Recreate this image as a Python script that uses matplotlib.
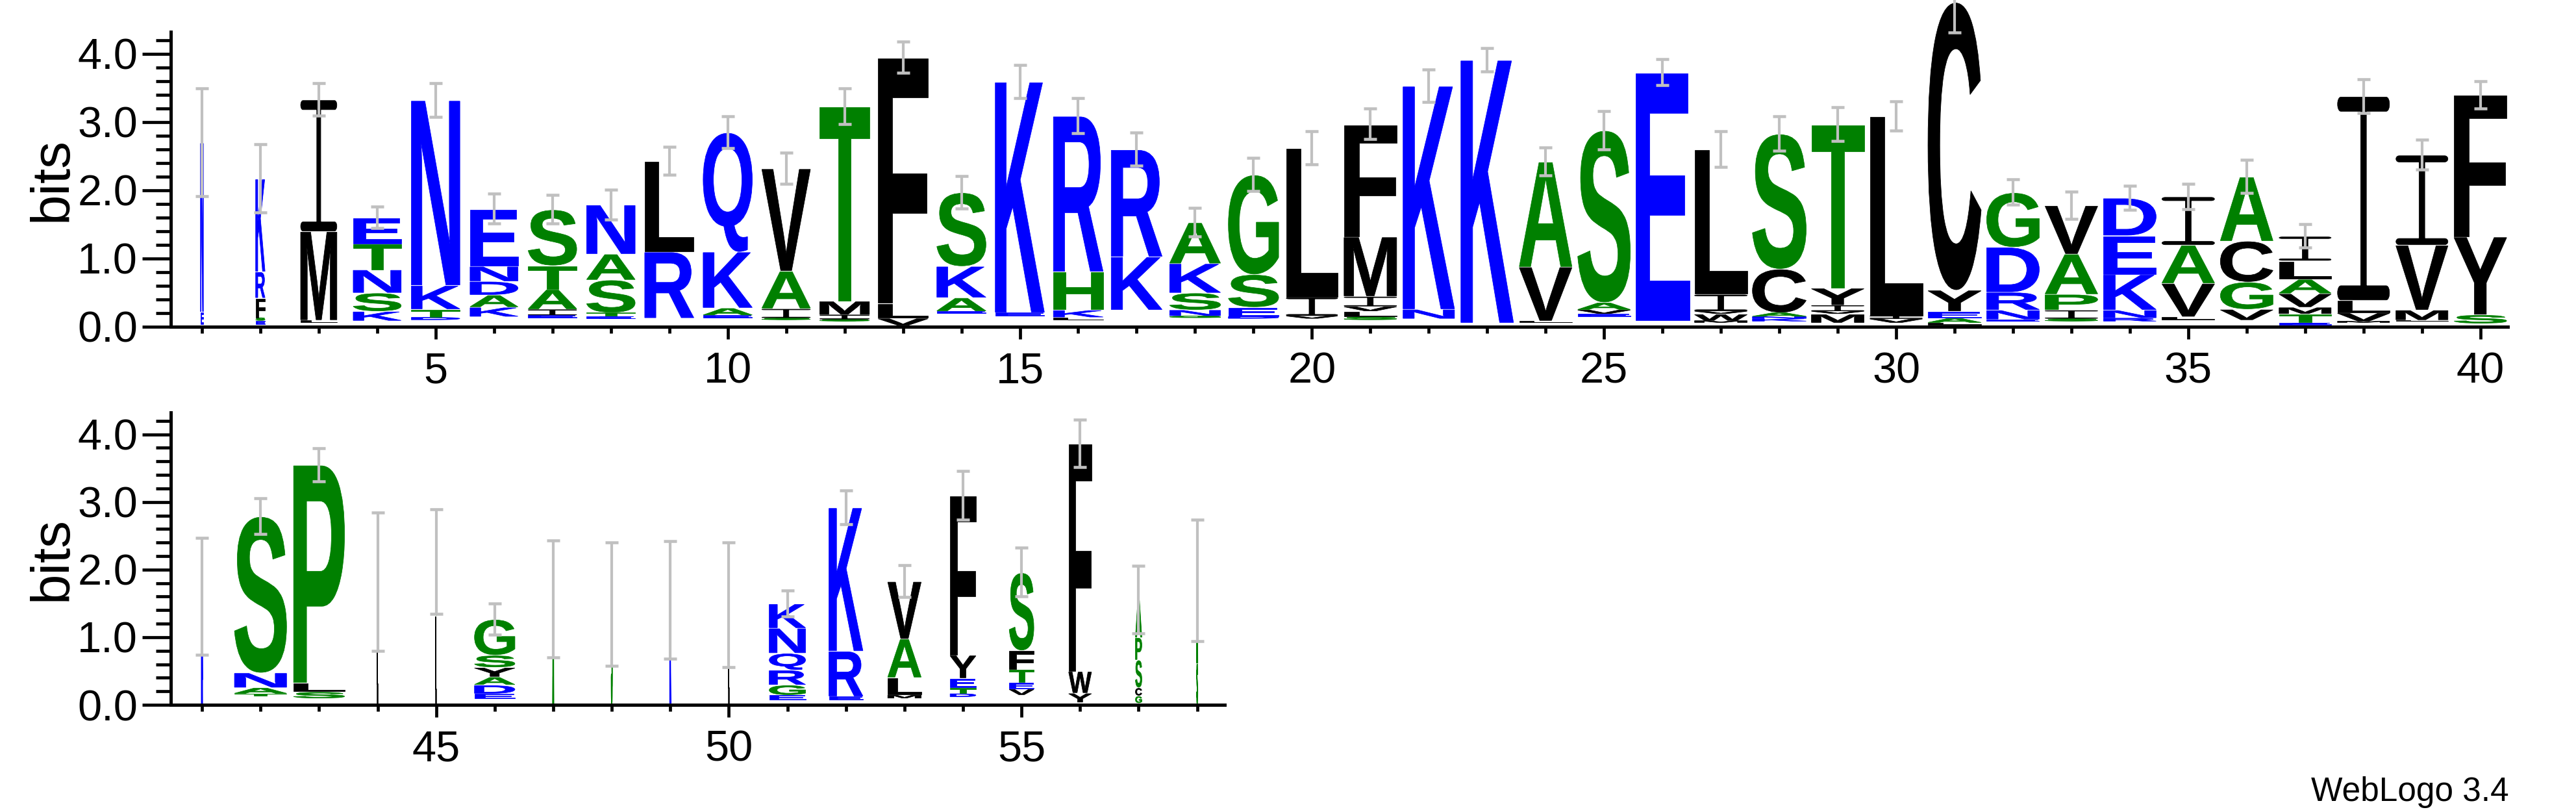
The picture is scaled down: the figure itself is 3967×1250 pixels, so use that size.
import numpy as np
import matplotlib
matplotlib.use("Agg")
import matplotlib.pyplot as plt
from matplotlib.textpath import TextPath
from matplotlib.font_manager import FontProperties
from matplotlib.path import Path
from matplotlib.patches import PathPatch
from matplotlib.ticker import MultipleLocator

plt.rcParams['font.family'] = ['Liberation Sans', 'DejaVu Sans']

# ---------------- data ----------------
positions_row1 = list(range(1, 41))
positions_row2 = list(range(41, 59))

# letters of each stack, bottom to top: (letter, bits); " " = empty gap
stacks_row1 = [
    [(" ", .04), ("E", .18), ("N", 2.48)],
    [(" ", .04), ("E", .05), ("S", .045), ("F", .29), ("R", .385), ("K", 1.36)],
    [(" ", .06), ("L", .04), ("M", 1.3), ("I", 1.93)],
    [(" ", .09), ("K", .14), ("S", .27), ("N", .34), ("T", .38), ("E", .38)],
    [(" ", .1), ("D", .04), ("T", .12), ("K", .35), ("N", 2.71)],
    [(" ", .15), ("K", .14), ("A", .18), ("D", .2), ("N", .22), ("E", .84)],
    [(" ", .13), ("E", .04), ("I", .09), ("A", .29), ("T", .35), ("S", .82)],
    [(" ", .12), ("E", .04), ("T", .05), ("S", .48), ("A", .38), ("N", .72)],
    [(" ", .13), ("R", .97), ("L", 1.33)],
    [(" ", .13), ("E", .04), ("A", .11), ("K", .82), ("Q", 1.75)],
    [(" ", .1), ("S", .03), ("I", .14), ("A", .55), ("V", 1.5)],
    [(" ", .08), ("S", .03), ("I", .07), ("M", .2), ("T", 2.85)],
    [(" ", .02), ("V", .11), ("L", .22), ("F", 3.6)],
    [(" ", .2), ("E", .03), ("A", .2), ("K", .46), ("S", 1.08)],
    [(" ", .16), ("E", .05), ("K", 3.38)],
    [(" ", .1), ("L", .04), ("K", .11), ("H", .56), ("R", 2.28)],
    [(" ", .25), ("K", .78), ("R", 1.57)],
    [(" ", .13), ("G", .03), ("N", .09), ("S", .25), ("K", .43), ("A", .6)],
    [(" ", .12), ("D", .03), ("E", .14), ("S", .48), ("G", 1.46)],
    [(" ", .12), ("V", .04), ("I", .28), ("L", 2.18)],
    [(" ", .1), ("S", .05), ("L", .08), ("V", .07), ("I", .15), ("M", .87), ("F", 1.65)],
    [(" ", .12), ("N", .14), ("K", 3.27)],
    [(" ", .06), ("K", 3.85)],
    [(" ", .06), ("L", .03), ("V", .79), ("A", 1.54)],
    [(" ", .15), ("E", .04), ("V", .06), ("A", .11), ("S", 2.52)],
    [(" ", .09), ("E", 3.64)],
    [(" ", .06), ("M", .03), ("W", .1), ("V", .04), ("I", .25), ("L", 2.12)],
    [(" ", .08), ("K", .04), ("N", .03), ("A", .06), ("C", .64), ("S", 1.98)],
    [(" ", .06), ("M", .13), ("V", .04), ("I", .09), ("Y", .25), ("T", 2.4)],
    [(" ", .06), ("V", .06), ("I", .04), ("L", 2.93)],
    [(" ", .03), ("L", .03), ("A", .07), ("E", .1), ("Y", .31), ("C", 4.22)],
    [(" ", .08), ("E", .03), ("N", .14), ("R", .26), ("D", .66), ("G", .8)],
    [(" ", .08), ("S", .04), ("I", .13), ("P", .23), ("A", .59), ("V", .71)],
    [(" ", .08), ("R", .05), ("N", .12), ("K", .52), ("E", .57), ("D", .55)],
    [(" ", .1), ("L", .05), ("V", .49), ("A", .56), ("I", .71)],
    [(" ", .1), ("V", .16), ("G", .4), ("C", .6), ("A", .94)],
    [(" ", .03), ("E", .03), ("T", .13), ("M", .1), ("V", .2), ("A", .21), ("L", .27), ("I", .36)],
    [(" ", .06), ("M", .02), ("V", .13), ("L", .18), ("I", 2.99)],
    [(" ", .08), ("L", .02), ("M", .15), ("V", .95), ("I", 1.32)],
    [(" ", .05), ("S", .13), ("Y", 1.14), ("F", 2.08)],
]
stacks_row2 = [
    [(" ", .02), ("N", 1.58)],
    [(" ", .13), ("T", .04), ("A", .09), ("N", .22), ("S", 2.31)],
    [(" ", .1), ("S", .1), ("L", .13), ("P", 3.22)],
    [(" ", .02), ("L", 1.8)],
    [(" ", .02), ("L", 1.3), ("G", .8)],
    [(" ", .1), ("E", .07), ("D", .13), ("A", .12), ("Y", .14), ("S", .18), ("G", .53)],
    [(" ", .02), ("A", 1.55)],
    [(" ", .02), ("S", 1.47)],
    [(" ", .02), ("K", 1.53)],
    [(" ", .02), ("L", 1.46)],
    [(" ", .08), ("E", .07), ("G", .15), ("R", .22), ("Q", .25), ("N", .37), ("K", .36)],
    [(" ", .08), ("E", .05), ("R", .67), ("K", 2.12)],
    [(" ", .1), ("M", .05), ("L", .26), ("A", .57), ("V", .85)],
    [(" ", .12), ("D", .05), ("T", .09), ("E", .14), ("Y", .34), ("F", 2.36)],
    [(" ", .15), ("V", .09), ("E", .1), ("T", .19), ("F", .28), ("S", 1.15)],
    [(" ", .04), ("Y", .14), ("W", .32), ("F", 3.37)],
    [(" ", .03), ("G", .11), ("C", .12), ("S", .41), ("P", .33), ("A", .56)],
    [(" ", .02), ("S", .6), ("A", 1.22)],
]

# stack widths (fraction of one position)
widths_row1 = [.05, .16, .62, .82, .83, .82, .83, .83, .84, .84,
               .83, .85, .85, .84, .84, .85, .87, .87, .86, .88,
               .9, .88, .9, .9, .9, .92, .9, .92, .9, .9,
               .91, .9, .9, .9, .9, .9, .89, .89, .89, .9]
widths_row2 = [.015, .89, .87, .018, .015, .69, .015, .015, .015, .015,
               .62, .58, .57, .44, .42, .39, .11, .015]

# error bar half-lengths (bits)
errors_row1 = [.79, .5, .235, .155, .245, .22, .21, .22, .205, .235,
               .23, .265, .225, .235, .245, .255, .245, .21, .24, .24,
               .225, .235, .17, .205, .28, .19, .26, .255, .25, .215,
               .45, .185, .2, .175, .185, .245, .17, .245, .22, .2]
errors_row2 = [.865, .26, .245, 1.025, .775, .23, .865, .91, .87, .925,
               .19, .25, .24, .36, .36, .35, .5, .9]

y_ticks = [0, 1, 2, 3, 4]
y_tick_labels = ["0.0", "1.0", "2.0", "3.0", "4.0"]
y_max = 4.3219

color_groups = {"#0000ff": "RKDENQ", "#008000": "SGHTAP", "#000000": "YVMCLFIW"}
letter_color = {ch: col for col, chars in color_groups.items() for ch in chars}

# ---------------- glyphs ----------------
FP = FontProperties(family="Liberation Sans", weight="bold")
_glyphs = {}


def _bar(yb, yt, rx=0.06, n=10):
    ang = np.linspace(-np.pi / 2, np.pi / 2, n)
    cy, ry = (yb + yt) / 2, (yt - yb) / 2
    right = np.column_stack([1 - rx + rx * np.cos(ang), cy + ry * np.sin(ang)])
    left = np.column_stack([rx - rx * np.cos(ang), cy - ry * np.sin(ang)])
    pts = np.vstack([right, left, right[:1]])
    codes = [Path.MOVETO] + [Path.LINETO] * (len(pts) - 2) + [Path.CLOSEPOLY]
    return pts, codes


def _make_I():
    t, s = 0.07, 0.11
    verts, codes = [], []
    for yb, yt in [(0, t), (1 - t, 1)]:
        p, c = _bar(yb, yt)
        verts.append(p)
        codes += c
    stem = np.array([[0.5 - s / 2, t], [0.5 + s / 2, t], [0.5 + s / 2, 1 - t],
                     [0.5 - s / 2, 1 - t], [0.5 - s / 2, t]])
    verts.append(stem)
    codes += [Path.MOVETO, Path.LINETO, Path.LINETO, Path.LINETO, Path.CLOSEPOLY]
    return Path(np.vstack(verts), codes)


def unit_glyph(ch):
    if ch not in _glyphs:
        if ch == "I":
            _glyphs[ch] = _make_I()
        else:
            tp = TextPath((0, 0), ch, size=100, prop=FP)
            ext = tp.get_extents()
            v = tp.vertices.copy()
            v[:, 0] = (v[:, 0] - ext.x0) / ext.width
            v[:, 1] = (v[:, 1] - ext.y0) / ext.height
            _glyphs[ch] = Path(v, tp.codes)
    return _glyphs[ch]


def draw_letter(ax, ch, xc, y0, w, h):
    if ch == " " or h <= 0:
        return
    gap = min(0.016, 0.15 * h)
    hd = h - gap
    up = unit_glyph(ch)
    v = up.vertices.copy()
    v[:, 0] = xc - w / 2 + v[:, 0] * w
    v[:, 1] = y0 + v[:, 1] * hd
    col = letter_color[ch]
    lw = 1.1 if w < 0.05 else 0.55
    ax.add_patch(PathPatch(Path(v, up.codes), facecolor=col, edgecolor=col,
                           lw=lw, joinstyle="miter", clip_on=False, zorder=2))


# ---------------- figure ----------------
W, H = 3967, 1250
fig = plt.figure(figsize=(W / 100, H / 100), dpi=100)

rows = [
    dict(pos=positions_row1, stacks=stacks_row1, widths=widths_row1, err=errors_row1,
         rect=[263 / W, (H - 502.7) / H, (3862 - 263) / W, y_max * 105 / H]),
    dict(pos=positions_row2, stacks=stacks_row2, widths=widths_row2, err=errors_row2,
         rect=[263 / W, (H - 1085) / H, (1886 - 263) / W, y_max * 104.1 / H]),
]

for row in rows:
    ax = fig.add_axes(row["rect"])
    pos = row["pos"]
    ax.set_xlim(pos[0] - 0.533, pos[-1] + 0.47)
    ax.set_ylim(0, y_max)
    tops = []
    for p, stack, w in zip(pos, row["stacks"], row["widths"]):
        y = 0.0
        for ch, h in stack:
            draw_letter(ax, ch, p, y, w, h)
            y += h
        tops.append(y)
    ax.errorbar(pos, tops, yerr=row["err"], fmt="none", ecolor="#c0c0c0",
                elinewidth=3.0, capsize=7.5, capthick=3.3, zorder=5, clip_on=False)

    for s in ["top", "right"]:
        ax.spines[s].set_visible(False)
    for s in ["left", "bottom"]:
        ax.spines[s].set_linewidth(3.6)
    ax.set_yticks(y_ticks, y_tick_labels)
    ax.yaxis.set_minor_locator(MultipleLocator(0.2))
    ax.xaxis.set_major_locator(MultipleLocator(5))
    ax.xaxis.set_minor_locator(MultipleLocator(1))
    ax.tick_params(axis="y", which="major", length=31.7, width=3.4, pad=5, labelsize=48)
    ax.tick_params(axis="y", which="minor", length=16.5, width=3.4)
    ax.tick_params(axis="x", which="major", length=14, width=3.4, pad=14, labelsize=48)
    ax.tick_params(axis="x", which="minor", length=7, width=3.4)
    ax.set_ylabel("bits", fontsize=60)
    axw_px = row["rect"][2] * W
    ax.yaxis.set_label_coords((120 - 263) / axw_px, 0.5)
    ax.patch.set_alpha(0)

fig.text(3864 / W, (H - 1233) / H, "WebLogo 3.4", ha="right", va="baseline", fontsize=37)

fig.savefig("out.png", dpi=100)
